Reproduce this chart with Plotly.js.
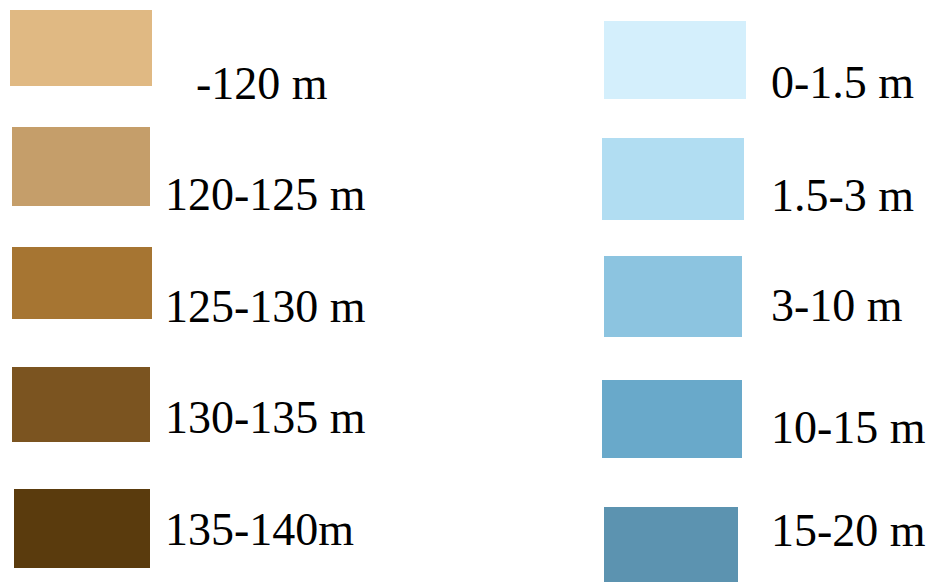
<!DOCTYPE html>
<html>
<head>
<meta charset="utf-8">
<script src="https://cdn.plot.ly/plotly-3.0.1.min.js"></script>
<style>
  html, body { margin: 0; padding: 0; background: #ffffff; }
  #chart { width: 932px; height: 582px; }
</style>
</head>
<body>
<div id="chart"></div>
<script>
// ---- data: legend categories and their colours ----
var landLabels = ["-120 m", "120-125 m", "125-130 m", "130-135 m", "135-140m"];
var landColors = ["#E0B983", "#C59E6A", "#A67532", "#7B5420", "#5A3B0D"];
var waterLabels = ["0-1.5 m", "1.5-3 m", "3-10 m", "10-15 m", "15-20 m"];
var waterColors = ["#D4EFFC", "#B1DDF2", "#8CC4E0", "#69A9CA", "#5C93B0"];

// ---- geometry (pixel-space layout of the legend swatches/labels) ----
var landBox = { x0: [10, 12, 12, 12, 14], x1: [152, 150, 152, 150, 150],
                y0: [10, 127, 247, 367, 489], y1: [86, 206, 319, 442, 568] };
var waterBox = { x0: [604, 602, 604, 602, 604], x1: [746, 744, 742, 742, 738],
                 y0: [21, 138, 256, 380, 507], y1: [99, 220, 337, 458, 592] };
var landText = { x: [196, 165, 165, 165, 165], base: [99, 210, 322, 433, 545] };
var waterText = { x: [771, 771, 771, 771, 771], base: [98, 211, 321, 443, 546] };

var FONT_SIZE = 46;
var BASE_SHIFT = 0.25 * FONT_SIZE; // baseline offset for 'middle' text

function barTrace(box, colors) {
  var n = colors.length, xs = [], ws = [], bs = [], hs = [];
  for (var i = 0; i < n; i++) {
    xs.push((box.x0[i] + box.x1[i]) / 2);
    ws.push(box.x1[i] - box.x0[i]);
    bs.push(box.y0[i]);
    hs.push(box.y1[i] - box.y0[i]);
  }
  return {
    type: "bar", x: xs, y: hs, base: bs, width: ws,
    marker: { color: colors, line: { width: 0 } },
    hoverinfo: "skip", showlegend: false
  };
}

function textTrace(pos, labels) {
  var ys = pos.base.map(function (b) { return b - BASE_SHIFT; });
  return {
    type: "scatter", mode: "text", x: pos.x, y: ys, text: labels,
    textposition: "middle right",
    textfont: { family: "Liberation Serif, 'Times New Roman', serif", size: FONT_SIZE, color: "#000000" },
    cliponaxis: false, hoverinfo: "skip", showlegend: false
  };
}

var data = [
  barTrace(landBox, landColors),
  barTrace(waterBox, waterColors),
  textTrace(landText, landLabels),
  textTrace(waterText, waterLabels)
];

var layout = {
  width: 932, height: 582,
  margin: { l: 0, r: 0, t: 0, b: 0, pad: 0 },
  paper_bgcolor: "#ffffff", plot_bgcolor: "#ffffff",
  barmode: "overlay",
  xaxis: { range: [0, 932], visible: false, fixedrange: true },
  yaxis: { range: [582, 0], visible: false, fixedrange: true },
  showlegend: false
};

Plotly.newPlot("chart", data, layout, { displayModeBar: false, staticPlot: true });
</script>
</body>
</html>
